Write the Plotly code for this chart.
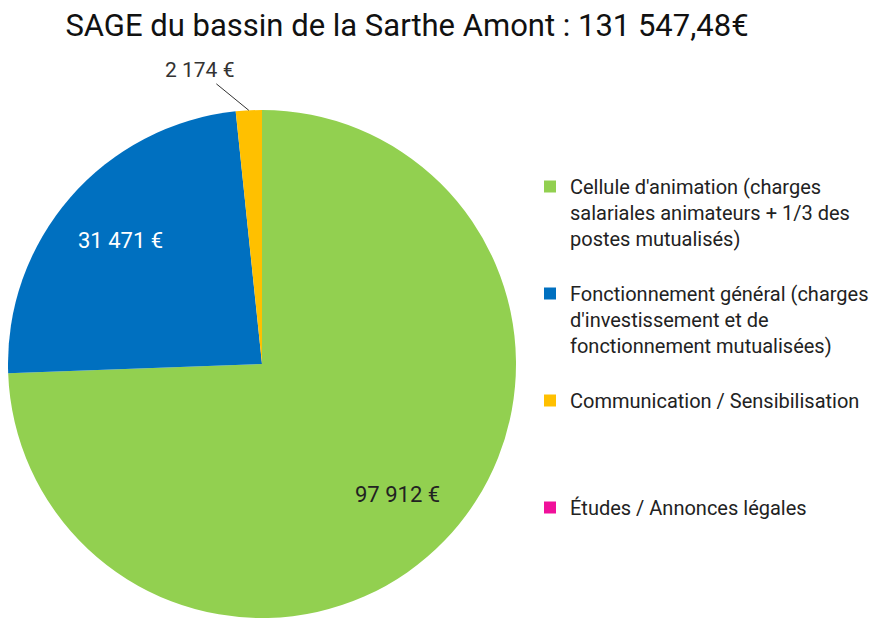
import math
import plotly.graph_objects as go

labels = [
    "Cellule d'animation (charges<br>salariales animateurs + 1/3 des<br>postes mutualisés)<br> ",
    "Fonctionnement général (charges<br>d'investissement et de<br>fonctionnement mutualisées)<br> ",
    "Communication / Sensibilisation<br> <br> <br> ",
    "Études / Annonces légales",
]
values = [97912, 31471, 2174, 0]
value_texts = ["97 912 €", "31 471 €", "2 174 €", ""]
colors = ["#92D050", "#0070C0", "#FFC000", "#F0109A"]
text_colors = ["#222222", "#FFFFFF", "#333333", "#333333"]
label_modes = ["inside", "inside", "outside", "none"]
title_text = "SAGE du bassin de la Sarthe Amont : 131 547,48€"

W, H = 881, 630
OFF = 8  # page body margin offset (screen px = figure px + OFF)
cx, cy, r = 254, 356, 254  # figure-pixel centre / radius of pie


def to_paper(px, py):
    return px / W, 1 - py / H


fig = go.Figure(go.Pie(
    labels=labels,
    values=values,
    sort=False,
    direction="clockwise",
    rotation=0,
    marker=dict(colors=colors, line=dict(width=0)),
    textinfo="none",
    hole=0,
    domain=dict(x=[max(0, (cx - r) / W), (cx + r) / W], y=[(H - cy - r) / H, (H - cy + r) / H]),
    showlegend=True,
))

# value labels placed from each slice's mid-angle (clockwise from 12 o'clock)
total = sum(values)
cum = 0
for v, t, col, mode in zip(values, value_texts, text_colors, label_modes):
    mid = (cum + v / 2) / total * 2 * math.pi
    cum += v
    if mode == "none":
        continue
    if mode == "inside":
        rr = 0.74 * r
        x, y = to_paper(cx + rr * math.sin(mid), cy - rr * math.cos(mid))
        fig.add_annotation(x=x, y=y, xref="paper", yref="paper", text=t, showarrow=False,
                           xanchor="center", yanchor="middle",
                           font=dict(family="Roboto", size=22, color=col))
    else:
        x, y = to_paper(cx + r * math.sin(mid), cy - r * math.cos(mid))
        fig.add_annotation(x=x, y=y, xref="paper", yref="paper", text=t, showarrow=True,
                           arrowhead=0, arrowwidth=1, arrowcolor="#333333", ax=-49, ay=-40,
                           standoff=0, font=dict(family="Roboto", size=21, color=col))

fig.update_layout(
    width=W, height=H,
    margin=dict(l=0, r=0, t=0, b=0),
    paper_bgcolor="white",
    title=dict(text=title_text, x=(407 - OFF) / W, xanchor="center", xref="container",
               y=1 - (25 - OFF) / H, yanchor="middle", yref="container",
               font=dict(family="Roboto", size=31, color="#111111")),
    legend=dict(x=522 / W, xanchor="left", y=1 - 159 / H, yanchor="top",
                valign="top", traceorder="normal",
                font=dict(family="Roboto", size=20, color="#222222"),
                bgcolor="rgba(0,0,0,0)", itemclick=False),
)

fig.write_html("out.html")
